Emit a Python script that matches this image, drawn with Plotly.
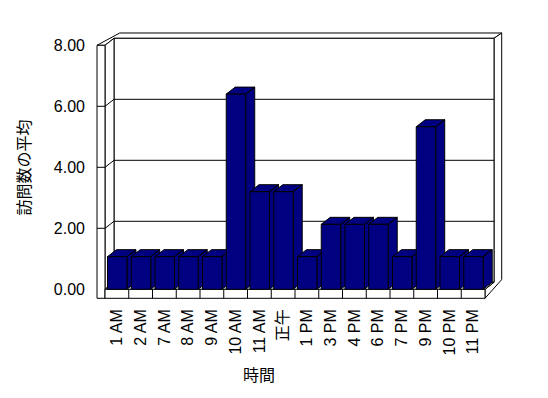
import plotly.graph_objects as go

# ---- data ----
categories = ["1 AM", "2 AM", "7 AM", "8 AM", "9 AM", "10 AM", "11 AM", "正午",
              "1 PM", "3 PM", "4 PM", "6 PM", "7 PM", "9 PM", "10 PM", "11 PM"]
values = [1.07, 1.07, 1.07, 1.07, 1.07, 6.4, 3.2, 3.2,
          1.07, 2.13, 2.13, 2.13, 1.07, 5.33, 1.07, 1.07]
y_ticks = [0, 2, 4, 6, 8]
y_title = "訪問数の平均"
x_title = "時間"

# ---- styling / geometry (data units) ----
NAVY = "#000080"
FONT = "Liberation Sans, Arial, Noto Sans CJK JP, sans-serif"
n = len(categories)
ymax = y_ticks[-1]
du, dv = 0.379, 0.2295          # depth offset of the 3-D box
tu, tv = 0.324, 0.174           # wall thickness offset
wall_w = 0.337                  # left wall front thickness
floor_h = 0.295                 # floor slab thickness
bar_lo, bar_hi = 0.105, 0.925   # bar front face within category

fig = go.Figure()


def poly(pts, fill="white"):
    xs, ys = [], []
    for p in pts:
        if p is None:
            xs.append(None); ys.append(None)
        else:
            xs.append(p[0]); ys.append(p[1])
    fig.add_trace(go.Scatter(x=xs, y=ys, mode="lines", fill="toself",
                             fillcolor=fill, line=dict(color="black", width=1),
                             hoverinfo="skip", showlegend=False))


def lines(pts):
    xs = [p[0] if p else None for p in pts]
    ys = [p[1] if p else None for p in pts]
    fig.add_trace(go.Scatter(x=xs, y=ys, mode="lines",
                             line=dict(color="black", width=1),
                             hoverinfo="skip", showlegend=False))


R = n  # right edge of floor front
# top strip of walls
poly([(-wall_w, ymax), (du + tu - wall_w * 0.25, ymax + dv + tv), (R + du + tu, ymax + dv + tv),
      (R + du, ymax + dv), (du, ymax + dv), (0, ymax), (-wall_w, ymax)])
# right strip (back wall + floor thickness)
poly([(R, -floor_h), (R + du + tu, -floor_h + dv + tv + 0.21), (R + du + tu, ymax + dv + tv),
      (R + du, ymax + dv), (R + du, dv), (R, 0), (R, -floor_h)])
# back wall face
poly([(du, dv), (R + du, dv), (R + du, ymax + dv), (du, ymax + dv), (du, dv)])
# left wall inner face
poly([(0, 0), (0, ymax), (du, ymax + dv), (du, dv), (0, 0)])
# floor top
poly([(0, 0), (R, 0), (R + du, dv), (du, dv), (0, 0)])
# left wall front face
poly([(-wall_w, -floor_h), (0, -floor_h), (0, ymax), (-wall_w, ymax), (-wall_w, -floor_h)])
# floor front face
poly([(0, -floor_h), (R, -floor_h), (R, 0), (0, 0), (0, -floor_h)])

# gridlines and wall ticks
gl = []
for t in y_ticks[1:-1]:
    gl += [(-wall_w, t), (0, t), (du, t + dv), (R + du, t + dv), None]
for k in range(1, n):
    gl += [(k, -floor_h), (k, 0), None]
lines(gl)

# bar side and top faces (drawn left to right)
for i, v in enumerate(values):
    x0, x1 = i + bar_lo, i + bar_hi
    poly([(x1, 0), (x1 + du, dv), (x1 + du, v + dv), (x1, v), (x1, 0), None,
          (x0, v), (x1, v), (x1 + du, v + dv), (x0 + du, v + dv), (x0, v)], fill=NAVY)

# bar front faces
fig.add_trace(go.Bar(x=[i + (bar_lo + bar_hi) / 2 for i in range(n)], y=values,
                     width=bar_hi - bar_lo, marker=dict(color=NAVY, line=dict(color="black", width=1)),
                     zorder=1, showlegend=False, hoverinfo="skip"))

fig.update_layout(
    width=548, height=398,
    margin=dict(l=90, r=38, t=25, b=93),
    paper_bgcolor="white", plot_bgcolor="white",
    font=dict(family=FONT, size=16, color="black"),
    showlegend=False,
    xaxis=dict(range=[-0.6316, 17.0526], tickvals=[i + 0.5 for i in range(n)],
               ticktext=categories, tickangle=-90, showgrid=False, zeroline=False,
               showline=False, ticks="", tickfont=dict(size=16), fixedrange=True),
    yaxis=dict(range=[-0.5148, 8.6656], tickvals=y_ticks,
               ticktext=[f"{t:.2f}" for t in y_ticks], showgrid=False, zeroline=False,
               showline=False, ticks="", tickfont=dict(size=16), fixedrange=True,
               ticklabelstandoff=4),
    annotations=[
        dict(text=y_title, textangle=-90, xref="paper", yref="paper",
             x=(23.5 - 90) / 420, y=(305 - 168) / 280, xanchor="center", yanchor="middle",
             showarrow=False, font=dict(size=16)),
        dict(text=x_title, xref="paper", yref="paper",
             x=(259 - 90) / 420, y=(305 - 375) / 280, xanchor="center", yanchor="middle",
             showarrow=False, font=dict(size=16)),
    ],
)

fig.write_html("out.html")
